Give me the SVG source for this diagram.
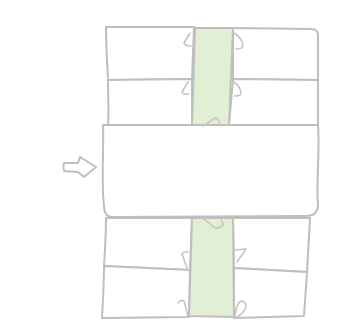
<svg xmlns="http://www.w3.org/2000/svg" width="339" height="331" viewBox="0 0 339 331">
<style>
.s{fill:none;stroke:#bfbfbf;stroke-width:2;stroke-linecap:round;stroke-linejoin:round}
.c{fill:#ffffff;stroke:#bfbfbf;stroke-width:2;stroke-linecap:round;stroke-linejoin:round}
.g{fill:#e1efd5;stroke:#bfbfbf;stroke-width:2;stroke-linejoin:round}
.h{fill:none;stroke:#c4c4c4;stroke-width:1.6;stroke-linecap:round;stroke-linejoin:round}
</style>
<rect width="339" height="331" fill="#ffffff"/>
<g id="top-left-1"><path class="c" d="M106,27 L194,27 L192,79 L108,80 C107,60 106,45 106,27 Z"/></g>
<g id="top-left-2"><path class="c" d="M108,80 L192,79 L192,125 L108,126 C109,110 108,95 108,80 Z"/></g>
<g id="top-right-1"><path class="c" d="M233,28 L312,29 Q318,29 318,36 L318,80 L233,79 Z"/></g>
<g id="top-right-2"><path class="c" d="M233,79 L318,80 L318,126 L229,125 Z"/></g>
<g id="top-strip"><path class="g" d="M195,28 L233,28 L229,125 L192,125 Z"/></g>
<g id="bottom-left-1"><path class="c" d="M106,218 L192,218 L190,270 L104,266 C105,250 106,235 106,218 Z"/></g>
<g id="bottom-left-2"><path class="c" d="M104,266 L190,270 L189,317 L102,318 C103,300 104,285 104,266 Z"/></g>
<g id="bottom-right-1"><path class="c" d="M233,218 L310,218 L307,272 L234,268 Z"/></g>
<g id="bottom-right-2"><path class="c" d="M234,268 L307,272 L304,316 L234,318 Z"/></g>
<g id="bottom-strip"><path class="g" d="M192,218 L233,218 L234,317 L189,316 Z"/></g>
<g id="middle"><path class="c" d="M103,125 L318,125 C320,150 316,185 318,204 Q318,216 306,216 L113,217 Q104,217 104,206 C101,180 104,150 103,125 Z"/></g>
<g id="input-arrow"><path class="s" d="M64,163 L78,163 L80,157 L96,167 L84,177 L78,172 L64,171 C63,168 63,166 64,163 Z"/></g>
<g id="connectors">
<path class="h" d="M190,33 L184,43 Q185,46 191,46"/>
<path class="h" d="M234,33 Q242,38 243,45 Q243,49 236,49"/>
<path class="h" d="M188,82 L182,92 Q183,95 189,94"/>
<path class="h" d="M234,82 Q240,86 241,93 Q241,96 235,96"/>
<path class="h" d="M203,126 L215,118 Q219,118 220,126"/>
<path class="h" d="M203,218 L215,228 Q221,228 223,225 Q223,222 221,220"/>
<path class="h" d="M188,252 Q184,251 182,254 L187,268"/>
<path class="h" d="M235,250 L246,249 L237,262"/>
<path class="h" d="M178,303 Q181,299 184,301 L188,316"/>
<path class="h" d="M235,317 Q236,303 241,301 Q246,301 246,307 Q244,313 237,317"/>
</g>
</svg>
